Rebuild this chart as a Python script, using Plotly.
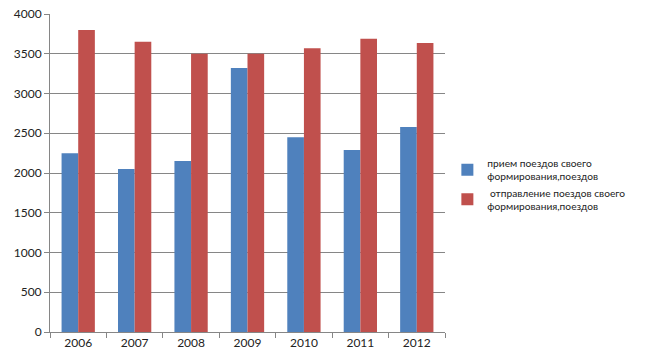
import plotly.graph_objects as go

years = ["2006", "2007", "2008", "2009", "2010", "2011", "2012"]
priem = [2250, 2050, 2150, 3320, 2450, 2290, 2580]
otprav = [3800, 3650, 3500, 3500, 3570, 3690, 3635]
name1 = "прием поездов своего<br>формирования,поездов"
name2 = " отправление поездов своего<br>формирования,поездов"

fig = go.Figure()
fig.add_trace(go.Bar(x=years, y=priem, name=name1, marker=dict(color="#4F81BD", line=dict(width=0))))
fig.add_trace(go.Bar(x=years, y=otprav, name=name2, marker=dict(color="#C0504D", line=dict(width=0))))

fig.update_layout(
    width=646, height=362,
    margin=dict(l=50, r=201, t=14, b=30),
    paper_bgcolor="white", plot_bgcolor="white",
    barmode="group", bargap=0.41, bargroupgap=0,
    font=dict(family="Lato, Liberation Sans, sans-serif", size=12, color="#222"),
    showlegend=True,
    legend=dict(x=1.006, xanchor="left", y=0.462, yanchor="middle",
                font=dict(size=10.2), tracegroupgap=0, itemwidth=30,
                bgcolor="rgba(0,0,0,0)"),
    xaxis=dict(type="category", showline=True, linecolor="#868686", linewidth=1,
               ticks="outside", tickson="boundaries", ticklen=5, tickcolor="#868686",
               showgrid=False, zeroline=False, automargin=False),
    yaxis=dict(range=[0, 4000], dtick=500, showline=True, linecolor="#868686", linewidth=1,
               ticks="outside", ticklen=5, tickcolor="#868686",
               showgrid=True, gridcolor="#868686", gridwidth=1, zeroline=False,
               automargin=False),
)

fig.write_html("out.html", config={"displayModeBar": False},
               post_script="document.body.style.margin='0';")
